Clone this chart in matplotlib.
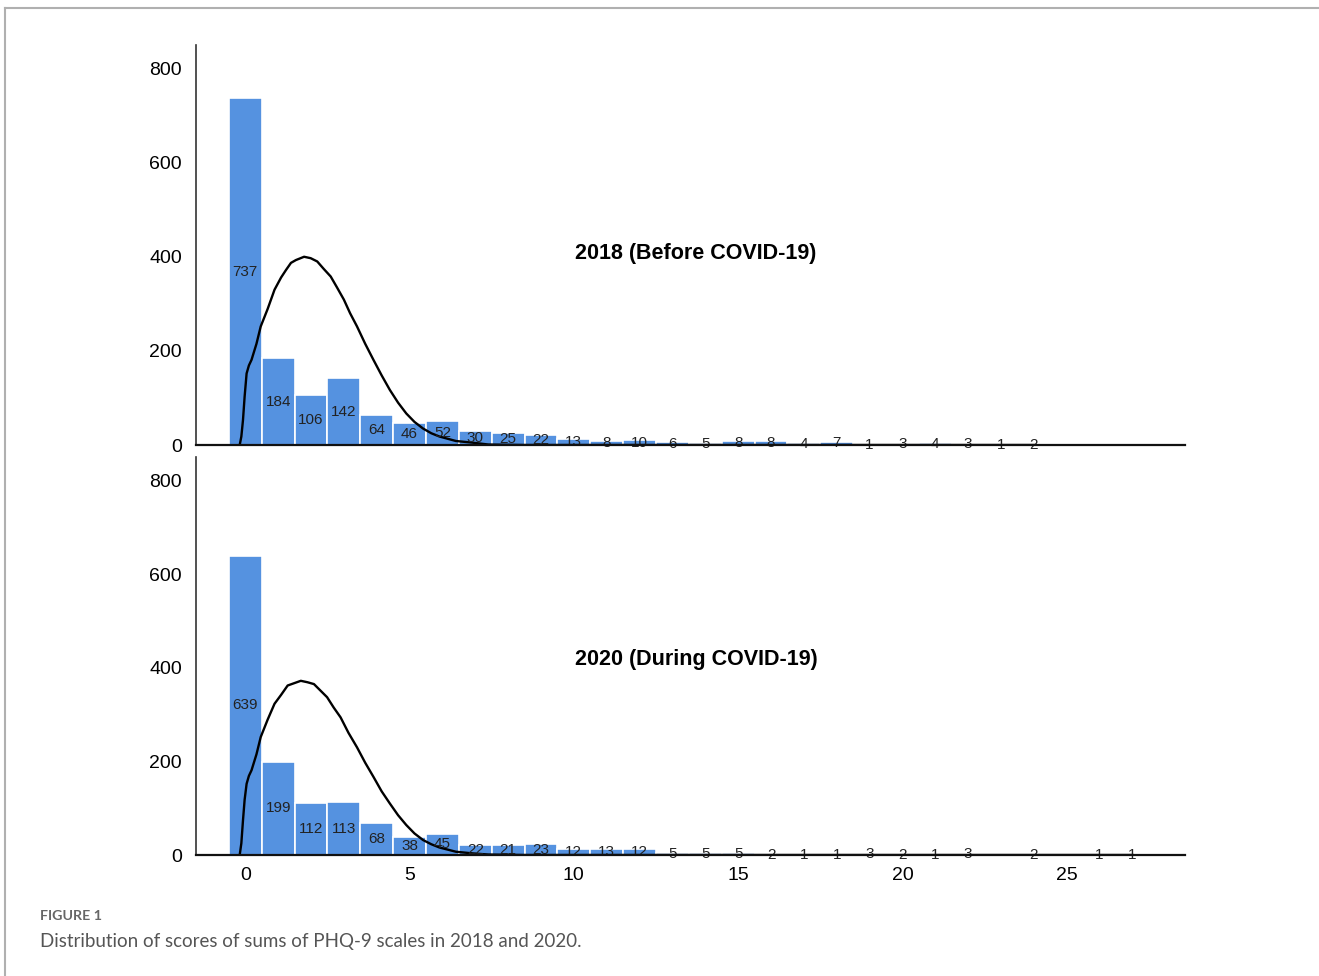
#Histogram of PHQ-9 sum scores, 2018 vs 2020, with fitted curve

import numpy as np
import matplotlib.pyplot as plt
from matplotlib.lines import Line2D

#Scores and counts
scores18 = list(range(25))
counts18 = [737, 184, 106, 142, 64, 46, 52, 30, 25, 22, 13, 8, 10, 6, 5,
            8, 8, 4, 7, 1, 3, 4, 3, 1, 2]

scores20 = list(range(23)) + [24, 26, 27]
counts20 = [639, 199, 112, 113, 68, 38, 45, 22, 21, 23, 12, 13, 12, 5, 5,
            5, 2, 1, 1, 3, 2, 1, 3, 2, 1, 1]

#Fitted curves
curve18_x = [-0.17, -0.12, -0.07, -0.02, 0.04, 0.11, 0.19, 0.34, 0.47, 0.68,
             0.89, 1.09, 1.24, 1.39, 1.54, 1.79, 1.99, 2.19, 2.39, 2.60,
             2.79, 3.00, 3.19, 3.40, 3.65, 3.90, 4.15, 4.40, 4.65, 4.90,
             5.15, 5.41, 5.66, 5.91, 6.41, 6.91, 7.40, 8.5, 24.0]
curve18_y = [0, 18, 53, 103, 152, 169, 181, 215, 252, 289,
             330, 356, 372, 387, 393, 400, 397, 390, 374, 358,
             335, 309, 280, 252, 215, 181, 148, 117, 90, 67,
             49, 35, 25, 18, 8.5, 5, 1, 0, 0]

curve20_x = [-0.17, -0.12, -0.07, -0.02, 0.04, 0.11, 0.19, 0.34, 0.47, 0.68,
             0.89, 1.09, 1.29, 1.49, 1.69, 1.89, 2.09, 2.29, 2.49, 2.69,
             2.90, 3.14, 3.40, 3.65, 3.90, 4.15, 4.40, 4.65, 4.90, 5.15,
             5.41, 5.66, 5.91, 6.41, 6.91, 7.40, 8.5, 27.0]
curve20_y = [0, 25, 74, 118, 152, 169, 181, 215, 252, 289,
             323, 342, 362, 367, 372, 369, 365, 351, 337, 315,
             294, 261, 230, 197, 167, 136, 110, 85, 64, 46,
             32, 23, 16, 7, 3.5, 1, 0, 0]

titles = ['2018 (Before COVID-19)', '2020 (During COVID-19)']
yticks = [0, 200, 400, 600, 800]
xticks = [0, 5, 10, 15, 20, 25]

bar_col = '#5592e0'
title_font = ['Liberation Sans Narrow', 'Liberation Sans', 'DejaVu Sans']
tick_font = ['Liberation Sans', 'DejaVu Sans']

fig = plt.figure(figsize=(13.19, 9.76), dpi=100)
W, H = 1319.0, 976.0

#axes boxes in pixels: left, top, right, bottom
boxes = [(196, 45, 1185, 445), (196, 457, 1185, 855)]
data = [(scores18, counts18, curve18_x, curve18_y),
        (scores20, counts20, curve20_x, curve20_y)]
title_y = [0.478, 0.49]

for k in range(2):
    l, t, r, b = boxes[k]
    ax = fig.add_axes([l/W, 1-b/H, (r-l)/W, (b-t)/H])
    xs, ys, cx, cy = data[k]

    ax.bar(xs, ys, width=1.0, color=bar_col, edgecolor='white', linewidth=1.2, zorder=2)
    ax.plot(cx, cy, color='black', lw=1.7, zorder=3, solid_joinstyle='round')

    #count labels in the middle of each bar
    for x, y in zip(xs, ys):
        ax.text(x, y/2.0, str(y), ha='center', va='center', fontsize=11,
                color='#222222', family=tick_font, zorder=4)

    ax.text(0.5056, title_y[k], titles[k], transform=ax.transAxes, ha='center', va='center',
            fontsize=15.5, fontweight='bold', family=title_font)

    ax.set_xlim(-1.5, 28.6)
    ax.set_ylim(0, 850)
    ax.set_yticks(yticks)
    ax.set_yticklabels([str(v) for v in yticks], fontsize=14, family=tick_font)
    ax.tick_params(axis='y', length=0, pad=10)
    if k == 1:
        ax.set_xticks(xticks)
        ax.set_xticklabels([str(v) for v in xticks], fontsize=14, family=tick_font)
        ax.tick_params(axis='x', length=0, pad=9)
    else:
        ax.set_xticks([])

    for s in ['top', 'right']:
        ax.spines[s].set_visible(False)
    ax.spines['left'].set_color('#333333')
    ax.spines['left'].set_linewidth(1.2)
    ax.spines['bottom'].set_color('#111111')
    ax.spines['bottom'].set_linewidth(1.6)
    ax.spines['bottom'].set_zorder(5)

#page frame
fig.add_artist(Line2D([5/W, 1.0], [1-8/H, 1-8/H], color='#b0b0b0', lw=1.5))
fig.add_artist(Line2D([5/W, 5/W], [0.0, 1-8/H], color='#b0b0b0', lw=1.5))

#caption
fig.text(40/W, 1-916/H, 'FIGURE 1', fontsize=10.3, color='#666666', family=['Lato', 'DejaVu Sans'],
         fontweight='bold', va='center', ha='left')
fig.text(40/W, 1-941/H, 'Distribution of scores of sums of PHQ-9 scales in 2018 and 2020.',
         fontsize=13.5, color='#555555', family=['Lato', 'DejaVu Sans'], va='center', ha='left')

plt.savefig('out.png', dpi=100)
